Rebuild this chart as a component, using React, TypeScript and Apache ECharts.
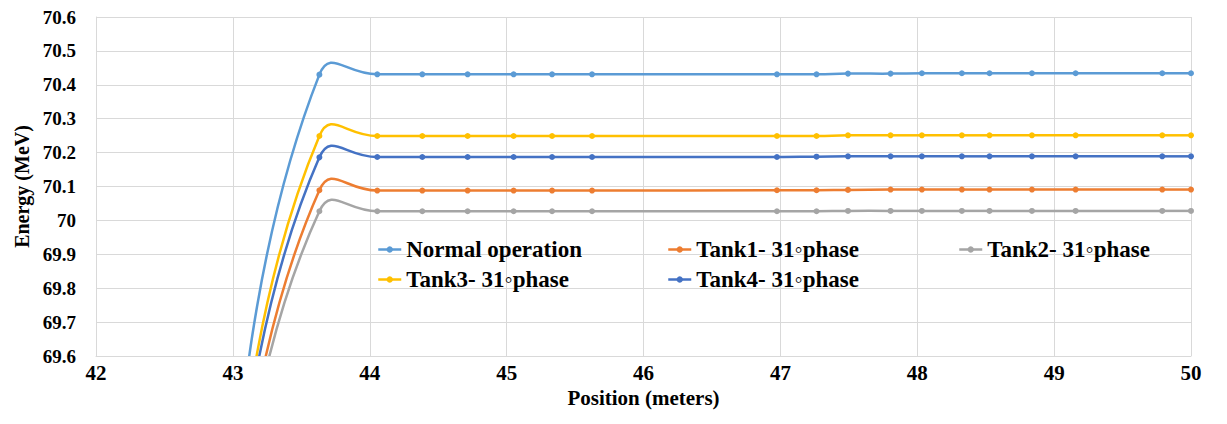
import React, { useEffect, useRef } from "react";
import * as echarts from "echarts";

// Shared x positions (m); first point lies below the visible range (clipped)
const positions = [43.07, 43.632, 44.055, 44.384, 44.715, 45.051, 45.332, 45.624, 46.975, 47.264, 47.494, 47.805, 48.034, 48.326, 48.528, 48.838, 49.157, 49.79, 50.0];

const normalOp = [69.42, 70.43, 70.431, 70.431, 70.431, 70.431, 70.431, 70.431, 70.431, 70.431, 70.433, 70.433, 70.434, 70.434, 70.434, 70.434, 70.434, 70.434, 70.434];
const tank1 = [69.19, 70.089, 70.088, 70.088, 70.088, 70.088, 70.088, 70.088, 70.089, 70.089, 70.09, 70.091, 70.091, 70.091, 70.091, 70.091, 70.091, 70.091, 70.091];
const tank2 = [69.165, 70.027, 70.027, 70.027, 70.027, 70.027, 70.027, 70.027, 70.027, 70.027, 70.028, 70.028, 70.028, 70.028, 70.028, 70.028, 70.028, 70.028, 70.028];
const tank3 = [69.305, 70.249, 70.249, 70.249, 70.249, 70.249, 70.249, 70.249, 70.249, 70.249, 70.251, 70.251, 70.251, 70.251, 70.251, 70.251, 70.251, 70.251, 70.251];
const tank4 = [69.275, 70.186, 70.187, 70.187, 70.187, 70.187, 70.187, 70.187, 70.187, 70.188, 70.189, 70.189, 70.189, 70.189, 70.189, 70.189, 70.189, 70.189, 70.189];

const seriesNames = ["Normal operation", "Tank1- 31\u25E6phase", "Tank2- 31\u25E6phase", "Tank3- 31\u25E6phase", "Tank4- 31\u25E6phase"];
const seriesValues = [normalOp, tank1, tank2, tank3, tank4];
const seriesColors = ["#5B9BD5", "#ED7D31", "#A5A5A5", "#FFC000", "#4472C4"];

const FONT = "Liberation Serif, Times New Roman, serif";
const K = 0.55;
const LW = 2.5;

function curveSeries(name: string, values: number[], color: string) {
  const n = positions.length;
  return {
    type: "custom",
    name: name + " (curve)",
    clip: true,
    z: 2,
    silent: true,
    data: positions.map((x, i) => [x, values[i]]),
    encode: { x: 0, y: 1 },
    renderItem: (params: any, api: any) => {
      const i = params.dataIndex;
      if (i >= n - 1) return null;
      const pt = (j: number) => api.coord([positions[j], values[j]]);
      const p0 = pt(Math.max(i - 1, 0));
      const p1 = pt(i);
      const p2 = pt(i + 1);
      const p3 = pt(Math.min(i + 2, n - 1));
      const d = (a: number[], b: number[]) => Math.hypot(b[0] - a[0], b[1] - a[1]);
      let c1 = p1;
      if (i > 0) {
        const l0 = d(p0, p1), l1 = d(p1, p2);
        const r = l1 / (l0 + l1);
        c1 = [p1[0] + (p2[0] - p0[0]) * K * r, p1[1] + (p2[1] - p0[1]) * K * r];
      }
      let c2 = p2;
      if (i + 1 < n - 1) {
        const l0 = d(p1, p2), l1 = d(p2, p3);
        const r = l0 / (l0 + l1);
        c2 = [p2[0] - (p3[0] - p1[0]) * K * r, p2[1] - (p3[1] - p1[1]) * K * r];
      }
      return {
        type: "bezierCurve",
        shape: { x1: p1[0], y1: p1[1], x2: p2[0], y2: p2[1], cpx1: c1[0], cpy1: c1[1], cpx2: c2[0], cpy2: c2[1] },
        style: { stroke: color, lineWidth: LW, fill: null },
      };
    },
  };
}

function markerSeries(name: string, values: number[], color: string) {
  return {
    type: "line",
    name,
    z: 3,
    clip: true,
    symbol: "circle",
    symbolSize: 6,
    showSymbol: true,
    data: positions.map((x, i) => [x, values[i]]),
    itemStyle: { color },
    lineStyle: { color, width: LW, opacity: 0 },
  };
}

function legendBlock(names: number[], left: number) {
  return {
    orient: "vertical",
    left,
    top: 238,
    padding: 0,
    itemWidth: 23,
    itemHeight: 8,
    itemGap: 7,
    selectedMode: false,
    data: names.map((k) => ({
      name: seriesNames[k],
      lineStyle: { color: seriesColors[k], width: LW, opacity: 1 },
      itemStyle: { color: seriesColors[k] },
    })),
    textStyle: { fontFamily: FONT, fontWeight: "bold", fontSize: 23, color: "#000" },
  };
}

export default function App() {
  const ref = useRef<HTMLDivElement>(null);
  useEffect(() => {
    document.body.style.margin = "0";
    const chart = echarts.init(ref.current!, null, { renderer: "svg" });
    const series: any[] = [];
    seriesNames.forEach((nm, k) => series.push(curveSeries(nm, seriesValues[k], seriesColors[k])));
    seriesNames.forEach((nm, k) => series.push(markerSeries(nm, seriesValues[k], seriesColors[k])));
    chart.setOption({
      animation: false,
      backgroundColor: "#fff",
      textStyle: { fontFamily: FONT },
      grid: { left: 96, right: 36, top: 17, bottom: 68 },
      legend: [legendBlock([0, 3], 377), legendBlock([1, 4], 667), legendBlock([2], 958)],
      xAxis: {
        type: "value",
        min: 42,
        max: 50,
        interval: 1,
        name: "Position (meters)",
        nameLocation: "middle",
        nameGap: 30,
        nameTextStyle: { fontFamily: FONT, fontWeight: "bold", fontSize: 21, color: "#000" },
        axisLine: { show: true, lineStyle: { color: "#d9d9d9", width: 1 } },
        axisTick: { show: false },
        splitLine: { show: true, lineStyle: { color: "#d9d9d9", width: 1 } },
        axisLabel: { fontFamily: FONT, fontWeight: "bold", fontSize: 21, color: "#000", margin: 6 },
      },
      yAxis: {
        type: "value",
        min: 69.6,
        max: 70.6,
        interval: 0.1,
        name: "Energy (MeV)",
        nameLocation: "middle",
        nameGap: 48,
        nameTextStyle: { fontFamily: FONT, fontWeight: "bold", fontSize: 20, color: "#000" },
        axisLine: { show: true, lineStyle: { color: "#d9d9d9", width: 1 } },
        axisTick: { show: false },
        splitLine: { show: true, lineStyle: { color: "#d9d9d9", width: 1 } },
        axisLabel: {
          fontFamily: FONT,
          fontWeight: "bold",
          fontSize: 19,
          color: "#000",
          margin: 20,
          formatter: (v: number) => String(Number(v.toFixed(1))),
        },
      },
      series,
    });
    return () => chart.dispose();
  }, []);
  return <div ref={ref} style={{ width: 1227, height: 424 }} />;
}
